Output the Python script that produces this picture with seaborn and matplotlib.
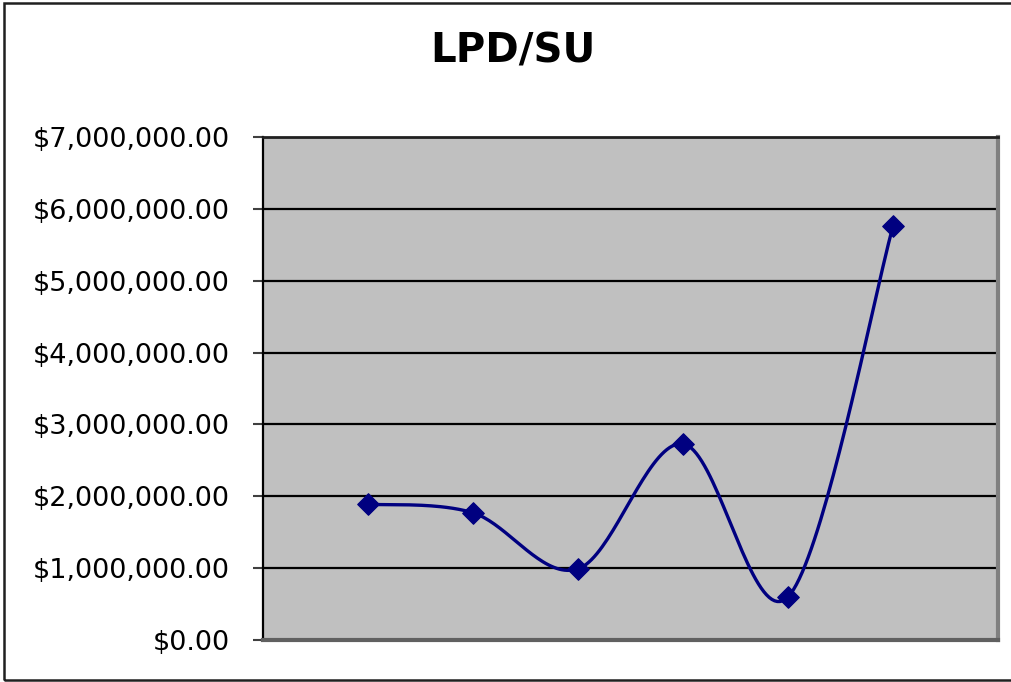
import numpy as np
import matplotlib
matplotlib.use("Agg")
import matplotlib.pyplot as plt
import matplotlib.ticker as mticker
from matplotlib.patches import Rectangle
import seaborn as sns

# data (8 category slots, first and last empty)
positions = [1, 2, 3, 4, 5, 6]
values = [1890000, 1770000, 990000, 2730000, 600000, 5760000]
title = "LPD/SU"


def excel_smooth(xs, ys, n=40):
    # Bezier smoothing like Excel's "smoothed line" (Catmull-Rom, tension 1/6)
    xs = np.asarray(xs, float)
    ys = np.asarray(ys, float)
    px = np.concatenate([[xs[0]], xs, [xs[-1]]])
    py = np.concatenate([[ys[0]], ys, [ys[-1]]])
    outx, outy = [], []
    t = np.linspace(0, 1, n)
    for i in range(1, len(px) - 2):
        p0 = np.array([px[i], py[i]])
        p3 = np.array([px[i + 1], py[i + 1]])
        p1 = p0 + (np.array([px[i + 1], py[i + 1]]) - np.array([px[i - 1], py[i - 1]])) / 6
        p2 = p3 - (np.array([px[i + 2], py[i + 2]]) - np.array([px[i], py[i]])) / 6
        b = ((1 - t) ** 3)[:, None] * p0 + (3 * (1 - t) ** 2 * t)[:, None] * p1 \
            + (3 * (1 - t) * t ** 2)[:, None] * p2 + (t ** 3)[:, None] * p3
        outx.extend(b[:, 0])
        outy.extend(b[:, 1])
    return np.array(outx), np.array(outy)


sns.set_style("white")
plt.rcParams['font.family'] = ['DejaVu Sans']
plt.rcParams['text.color'] = 'black'
plt.rcParams['ytick.labelcolor'] = 'black'

fig = plt.figure(figsize=(10.12, 6.82), dpi=100)
ax = fig.add_axes([0.2599, 0.0616, 0.7263, 0.7375])
ax.set_facecolor("#C0C0C0")

sx, sy = excel_smooth(positions, values)
sns.lineplot(x=sx, y=sy, ax=ax, color="#000080", linewidth=2.4, sort=False, estimator=None)
sns.scatterplot(x=positions, y=values, ax=ax, marker="D", color="#000080", s=120,
                edgecolor="#000080", zorder=5)

ax.set_xlim(0, 7)
ax.set_ylim(0, 7000000)
ax.yaxis.set_major_locator(mticker.MultipleLocator(1000000))
ax.yaxis.set_major_formatter(mticker.StrMethodFormatter("${x:,.2f}"))
ax.set_xticks([])
ax.grid(axis="y", color="black", linewidth=1.6)
ax.set_axisbelow(True)
ax.tick_params(axis="y", which="major", direction="out", length=7, width=1.5,
               color="#404040", left=True, pad=17, labelsize=19.5, labelcolor="black")

ax.spines["left"].set_color("black")
ax.spines["left"].set_linewidth(1.6)
ax.spines["top"].set_color("#202020")
ax.spines["top"].set_linewidth(2.0)
ax.spines["right"].set_color("#808080")
ax.spines["right"].set_linewidth(3.0)
ax.spines["bottom"].set_color("#606060")
ax.spines["bottom"].set_linewidth(3.0)

fig.text(0.507, 0.924, title, ha="center", va="center", fontsize=29, fontweight="bold",
         color="black")

# chart area border
fig.patches.append(Rectangle((0.004, 0.003), 1.1, 0.992, transform=fig.transFigure,
                             fill=False, edgecolor="#202020", linewidth=1.8))

fig.savefig("out.png", dpi=100)
